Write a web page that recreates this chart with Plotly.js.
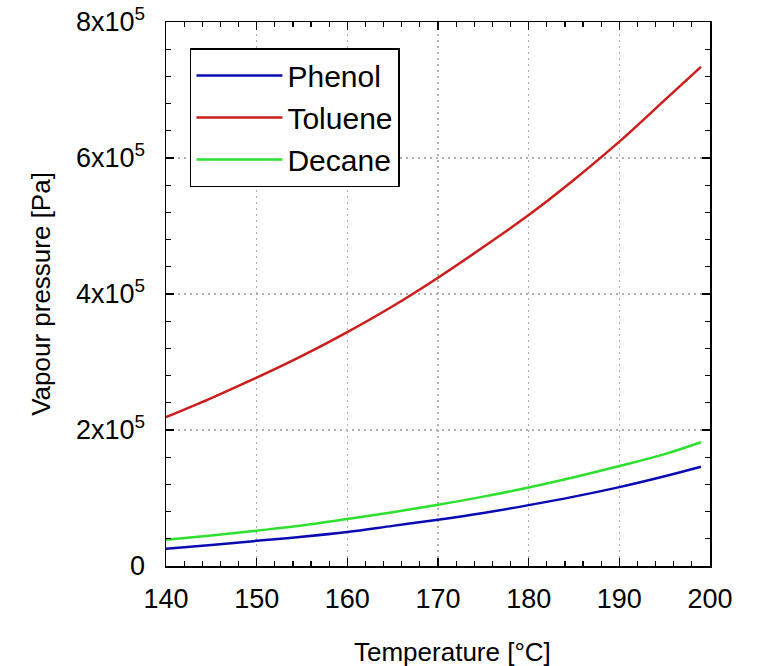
<!DOCTYPE html>
<html>
<head>
<meta charset="utf-8">
<script src="https://cdn.plot.ly/plotly-3.0.1.min.js"></script>
<style>html,body{margin:0;padding:0;background:#fff;}#chart{width:760px;height:666px;}</style>
</head>
<body>
<div id="chart"></div>
<script>
const temperature = [140, 145, 150, 155, 160, 165, 170, 175, 180, 185, 190, 195, 199];
const phenol  = [2.54e4, 3.1e4, 3.7e4, 4.3e4, 5.0e4, 5.9e4, 6.8e4, 7.8e4, 8.95e4, 1.02e5, 1.16e5, 1.32e5, 1.46e5];
const toluene = [2.19e5, 2.47e5, 2.77e5, 3.09e5, 3.44e5, 3.82e5, 4.24e5, 4.69e5, 5.16e5, 5.68e5, 6.24e5, 6.85e5, 7.34e5];
const decane  = [3.87e4, 4.5e4, 5.2e4, 5.95e4, 6.9e4, 7.9e4, 9.0e4, 1.02e5, 1.155e5, 1.305e5, 1.47e5, 1.645e5, 1.82e5];
const yTickVals = [0, 2e5, 4e5, 6e5, 8e5];
const yTickText = ["0", "2x10<sup>5</sup>", "4x10<sup>5</sup>", "6x10<sup>5</sup>", "8x10<sup>5</sup>"];
const xTickVals = [140, 150, 160, 170, 180, 190, 200];

const font = "Liberation Sans, Arial, sans-serif";
const traces = [
  {x: temperature, y: phenol, name: "Phenol", mode: "lines", line: {color: "#0a0ab4", width: 2.5, shape: "spline"}},
  {x: temperature, y: toluene, name: "Toluene", mode: "lines", line: {color: "#cc1c1c", width: 2.5, shape: "spline"}},
  {x: temperature, y: decane, name: "Decane", mode: "lines", line: {color: "#2ee02e", width: 2.5, shape: "spline"}}
];
const layout = {
  width: 760, height: 666,
  margin: {l: 166, r: 50, t: 22, b: 100},
  paper_bgcolor: "#fff", plot_bgcolor: "#fff",
  font: {family: font, size: 26, color: "#000"},
  showlegend: true,
  legend: {x: 0.044, y: 0.952, xanchor: "left", yanchor: "top", bgcolor: "#fff",
           bordercolor: "#000", borderwidth: 1.5, font: {family: font, size: 30, color: "#000"},
           itemwidth: 86, tracegroupgap: 0},
  xaxis: {
    range: [140, 200], tickvals: xTickVals, ticks: "inside", ticklen: 8, tickwidth: 1.5, tickcolor: "#000",
    showline: true, linecolor: "#000", linewidth: 1.5, mirror: "ticks",
    showgrid: true, gridcolor: "#b0b0b0", griddash: "2px,4px", gridwidth: 1.5, zeroline: false,
    tickfont: {family: font, size: 27}, ticklabelstandoff: 8,
    minor: {dtick: 2, ticks: "inside", ticklen: 5, tickwidth: 1.2, tickcolor: "#000", showgrid: false}
  },
  yaxis: {
    range: [0, 8e5], tickvals: yTickVals, ticktext: yTickText, ticks: "inside", ticklen: 8, tickwidth: 1.5, tickcolor: "#000",
    showline: true, linecolor: "#000", linewidth: 1.5, mirror: "ticks",
    showgrid: true, gridcolor: "#b0b0b0", griddash: "2px,4px", gridwidth: 1.5, zeroline: false,
    tickfont: {family: font, size: 27}, ticklabelstandoff: 14,
    minor: {dtick: 4e4, ticks: "inside", ticklen: 5, tickwidth: 1.2, tickcolor: "#000", showgrid: false},
    title: {text: "Vapour pressure [Pa]", font: {family: font, size: 26}, standoff: 18}
  },
  annotations: [
    {text: "Temperature [°C]", xref: "paper", yref: "paper", x: 0.526, y: -0.158,
     xanchor: "center", yanchor: "middle", showarrow: false, font: {family: font, size: 26, color: "#000"}}
  ]
};
Plotly.newPlot("chart", traces, layout, {displayModeBar: false, staticPlot: true});
</script>
</body>
</html>
